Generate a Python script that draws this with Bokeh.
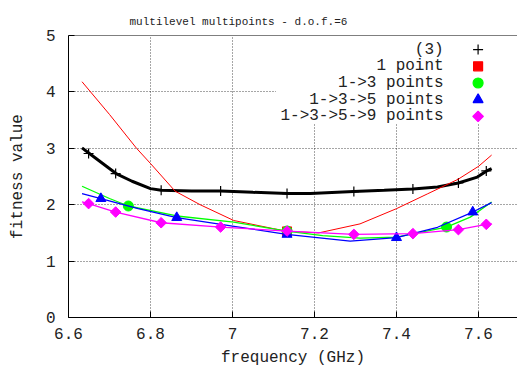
import math
from bokeh.plotting import figure
from bokeh.models import FixedTicker, ColumnDataSource, BoxAnnotation, Range1d, Span
from bokeh.embed import file_html
from bokeh.resources import INLINE
from bokeh.core.properties import value, field

# ---------------- data ----------------
title_text = "multilevel multipoints - d.o.f.=6"
x_label = "frequency (GHz)"
y_label = "fitness value"
x_ticks = [6.6, 6.8, 7.0, 7.2, 7.4, 7.6]
x_tick_labels = ["6.6", "6.8", "7", "7.2", "7.4", "7.6"]
y_ticks = [0, 1, 2, 3, 4, 5]
y_tick_labels = ["0", "1", "2", "3", "4", "5"]

# smooth curves
c3_x = [6.633, 6.651, 6.716, 6.755, 6.80, 6.826, 6.90, 6.971, 7.05, 7.134, 7.19, 7.295, 7.37, 7.44, 7.50, 7.551, 7.597, 7.62, 7.632]
c3_y = [3.007, 2.908, 2.552, 2.416, 2.285, 2.256, 2.245, 2.243, 2.22, 2.197, 2.197, 2.233, 2.255, 2.279, 2.314, 2.385, 2.49, 2.599, 2.64]

c1_x = [6.633, 6.70, 6.766, 6.80, 6.86, 6.921, 7.003, 7.10, 7.132, 7.21, 7.311, 7.40, 7.475, 7.55, 7.60, 7.632]
c1_y = [4.18, 3.60, 3.00, 2.73, 2.24, 2.00, 1.72, 1.575, 1.53, 1.50, 1.66, 1.93, 2.19, 2.45, 2.68, 2.88]

c13_x = [6.633, 6.70, 6.746, 6.864, 7.003, 7.132, 7.22, 7.311, 7.40, 7.522, 7.58, 7.632]
c13_y = [2.327, 2.11, 1.977, 1.80, 1.69, 1.533, 1.45, 1.409, 1.426, 1.604, 1.78, 2.048]

c135_x = [6.633, 6.679, 6.77, 6.864, 7.00, 7.132, 7.287, 7.40, 7.50, 7.586, 7.632]
c135_y = [2.197, 2.108, 1.93, 1.771, 1.62, 1.474, 1.355, 1.416, 1.60, 1.870, 2.037]

c1359_x = [6.633, 6.649, 6.715, 6.826, 6.971, 7.133, 7.296, 7.44, 7.551, 7.619, 7.632]
c1359_y = [2.048, 2.02, 1.87, 1.68, 1.604, 1.533, 1.474, 1.487, 1.558, 1.652, 1.664]

# sample points
p9_x = [6.649, 6.715, 6.826, 6.971, 7.133, 7.296, 7.440, 7.551, 7.619]
p3_y = [2.908, 2.552, 2.256, 2.243, 2.197, 2.233, 2.279, 2.385, 2.599]
p1359_y = [2.02, 1.87, 1.68, 1.604, 1.533, 1.474, 1.487, 1.558, 1.652]
p135_x = [6.679, 6.864, 7.133, 7.40, 7.586]
p135_y = [2.108, 1.771, 1.474, 1.416, 1.870]
p13_x = [6.746, 7.133, 7.522]
p13_y = [1.977, 1.533, 1.604]
p1_x = [7.133]
p1_y = [1.527]

legend_labels = ["(3)", "1 point", "1->3 points", "1->3->5 points", "1->3->5->9 points"]
legend_markers = ["cross", "square", "circle", "triangle", "square"]
legend_colors = ["#000000", "#ff0000", "#00ff00", "#0000ff", "#ff00ff"]
legend_sizes = [10, 9, 10, 10, 7.5]
legend_angles = [0, 0, 0, 0, math.pi / 4]

# ---------------- figure ----------------
FONT = "Liberation Mono"
TXT = "#222222"
x_end = 6.6 + (517 - 68) / 410

p = figure(width=517, height=374, output_backend="svg", toolbar_location=None,
           x_range=Range1d(6.6, x_end), y_range=Range1d(0, 5),
           min_border_left=68, min_border_right=0, min_border_top=35, min_border_bottom=57)
p.outline_line_color = None
p.background_fill_color = "white"
p.border_fill_color = "white"

p.title.text = title_text
p.title.text_font = FONT
p.title.text_font_size = "11px"
p.title.text_font_style = "normal"
p.title.text_color = TXT
p.title.align = "left"
p.title.offset = 61
p.title.standoff = 16

for ax in (p.xaxis[0], p.yaxis[0]):
    ax.major_tick_in = 6
    ax.major_tick_out = 0
    ax.minor_tick_line_color = None
    ax.axis_line_color = "black"
    ax.major_tick_line_color = "black"
    ax.major_label_text_font = FONT
    ax.major_label_text_font_size = "16px"
    ax.major_label_text_color = TXT
    ax.axis_label_text_font = FONT
    ax.axis_label_text_font_size = "16px"
    ax.axis_label_text_font_style = "normal"
    ax.axis_label_text_color = TXT

p.xaxis.ticker = FixedTicker(ticks=x_ticks)
p.xaxis.major_label_overrides = dict(zip(x_ticks, x_tick_labels))
p.xaxis.axis_label = x_label
p.xaxis.major_label_standoff = 10
p.xaxis.axis_label_standoff = 7

p.yaxis.ticker = FixedTicker(ticks=y_ticks)
p.yaxis.major_label_overrides = dict(zip(y_ticks, y_tick_labels))
p.yaxis.axis_label = y_label
p.yaxis.major_label_standoff = 13
p.yaxis.axis_label_standoff = 16

# top border of the frame
p.add_layout(Span(location=5, dimension="width", line_color="black", line_width=1))

p.xgrid.ticker = FixedTicker(ticks=x_ticks[1:])
p.ygrid.ticker = FixedTicker(ticks=y_ticks[1:-1])
for g in (p.xgrid[0], p.ygrid[0]):
    g.grid_line_color = "#000000"
    g.grid_line_alpha = 0.7
    g.grid_line_dash = "1 2"
    g.grid_line_width = 1

# opaque legend background covering grid lines
legend_box = BoxAnnotation(left=7.106, bottom=3.43, fill_color="white", fill_alpha=1.0,
                           line_color=None, level="underlay")
p.add_layout(legend_box)

# curves and sample points
p.line(c3_x, c3_y, line_color="#000000", line_width=3)
p.scatter(p9_x, p3_y, marker="cross", size=10, line_color="#000000", line_width=1.2)

p.line(c1_x, c1_y, line_color="#ff0000", line_width=1)
p.scatter(p1_x, p1_y, marker="square", size=9, fill_color="#ff0000", line_color="#ff0000")

p.line(c13_x, c13_y, line_color="#00ff00", line_width=1.3)
p.scatter(p13_x, p13_y, marker="circle", size=10, fill_color="#00ff00", line_color="#00ff00")

p.line(c135_x, c135_y, line_color="#0000ff", line_width=1.3)
p.scatter(p135_x, p135_y, marker="triangle", size=10, fill_color="#0000ff", line_color="#0000ff")

p.line(c1359_x, c1359_y, line_color="#ff00ff", line_width=1.3)
p.scatter(p9_x, p1359_y, marker="square", angle=math.pi / 4, size=7.5,
          fill_color="#ff00ff", line_color="#ff00ff")

# legend (text then sample marker, gnuplot style)
row_y = [4.75 - 0.296 * i for i in range(len(legend_labels))]
leg_src = ColumnDataSource(dict(
    tx=[7.515] * len(legend_labels), mx=[7.599] * len(legend_labels), y=row_y,
    label=legend_labels, marker=legend_markers, color=legend_colors,
    size=legend_sizes, angle=legend_angles))
p.text(x="tx", y="y", text="label", source=leg_src, text_font=value(FONT),
       text_font_size="16px", text_align="right", text_baseline="middle", text_color=TXT)
p.scatter(x="mx", y="y", marker=field("marker"), size="size", angle="angle",
          fill_color="color", line_color="color", line_width=1.2, source=leg_src)

open("out.html", "w").write(file_html(p, INLINE))
